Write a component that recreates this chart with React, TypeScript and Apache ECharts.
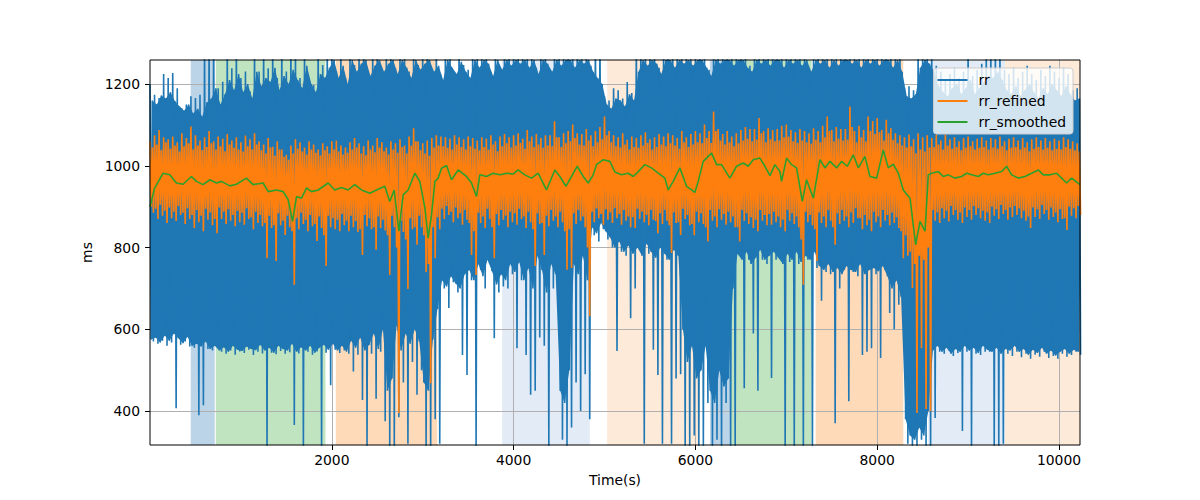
import React, { useEffect, useRef } from "react";
import * as echarts from "echarts";

// ---- axis ranges / ticks ----
const X_MIN = 0;
const X_MAX = 10231;
const Y_MIN = 317;
const Y_MAX = 1259;
const X_TICKS = [2000, 4000, 6000, 8000, 10000];
const Y_TICKS = [400, 600, 800, 1000, 1200];

// Each 50 s bin is split in two 25 s halves; for each half the highest
// and the lowest beat interval were read off the picture.
// (A = extreme beats, B = the dense body of the trace)
const BIN = 50;

// ---- rr ----
const rrHiA = [
  1200, 1174, 1166, 1225, 1215, 1227, 1190, 1141, 1150, 1170,
  1166, 1174, 1300, 1300, 1300, 1190, 1206, 1300, 1239, 1300,
  1215, 1231, 1182, 1300, 1231, 1300, 1239, 1300, 1215, 1300,
  1231, 1300, 1300, 1215, 1300, 1215, 1198, 1300, 1247, 1300,
  1300, 1231, 1300, 1215, 1300, 1247, 1300, 1300, 1231, 1300,
  1300, 1215, 1300, 1300, 1239, 1300, 1300, 1231, 1300, 1247,
  1300, 1300, 1215, 1300, 1223, 1300, 1300, 1215, 1300, 1247,
  1235, 1300, 1300, 1300, 1300, 1230, 1300, 1228, 1300, 1300,
  1300, 1300, 1300, 1300, 1300, 1240, 1300, 1300, 1235, 1300,
  1300, 1300, 1300, 1300, 1300, 1300, 1300, 1245, 1300, 1300,
  1170, 1160, 1190, 1185, 1165, 1205, 1178, 1300, 1300, 1300,
  1300, 1300, 1240, 1300, 1300, 1300, 1300, 1300, 1300, 1300,
  1300, 1300, 1300, 1235, 1300, 1300, 1300, 1300, 1300, 1300,
  1300, 1300, 1245, 1300, 1300, 1300, 1300, 1300, 1300, 1300,
  1300, 1300, 1300, 1300, 1300, 1240, 1300, 1300, 1300, 1300,
  1300, 1300, 1300, 1300, 1300, 1300, 1300, 1300, 1300, 1300,
  1300, 1300, 1300, 1300, 1300, 1300, 1190, 1195, 1185, 1300,
  1300, 1300, 1300, 1245, 1230, 1210, 1225, 1240, 1215, 1230,
  1300, 1220, 1235, 1250, 1300, 1300, 1300, 1300, 1235, 1225,
  1240, 1215, 1230, 1245, 1225, 1210, 1235, 1220, 1245, 1230,
  1215, 1240, 1225, 1185, 1190,
];
const rrLoA = [
  570, 565, 572, 560, 568, 407, 562, 570, 558, 555,
  390, 414, 552, 548, 556, 545, 540, 548, 538, 546,
  542, 550, 537, 545, 541, 310, 543, 539, 547, 540,
  544, 366, 541, 310, 545, 538, 546, 310, 543, 463,
  550, 542, 548, 540, 497, 538, 427, 310, 540, 430,
  545, 375, 310, 310, 385, 470, 320, 520, 440, 500,
  310, 310, 380, 320, 700, 652, 715, 690, 537, 488,
  720, 310, 745, 700, 760, 578, 690, 705, 700, 735,
  554, 720, 537, 440, 450, 580, 560, 310, 700, 650,
  330, 310, 360, 470, 400, 490, 380, 830, 815, 845,
  820, 800, 547, 790, 780, 627, 700, 795, 320, 785,
  550, 488, 320, 770, 320, 480, 490, 310, 310, 340,
  310, 310, 420, 310, 330, 310, 420, 310, 310, 780,
  456, 770, 590, 450, 770, 760, 481, 770, 770, 310,
  765, 310, 760, 310, 770, 310, 750, 670, 740, 735,
  370, 700, 745, 424, 740, 730, 537, 545, 554, 735,
  530, 745, 640, 600, 660, 620, 320, 310, 310, 330,
  310, 310, 383, 545, 540, 548, 535, 542, 351, 545,
  310, 540, 537, 545, 545, 310, 310, 320, 540, 535,
  545, 532, 540, 528, 538, 533, 545, 530, 535, 528,
  540, 533, 537, 545, 538,
];
const rrHiB = [
  1160, 1150, 1172, 1165, 1180, 1158, 1145, 1135, 1150, 1128,
  1140, 1120, 1155, 1165, 1190, 1150, 1175, 1210, 1185, 1225,
  1180, 1200, 1165, 1230, 1195, 1215, 1205, 1240, 1185, 1220,
  1200, 1235, 1210, 1190, 1245, 1200, 1180, 1225, 1215, 1240,
  1259, 1215, 1245, 1200, 1259, 1230, 1250, 1259, 1220, 1245,
  1259, 1230, 1250, 1259, 1225, 1259, 1240, 1215, 1259, 1235,
  1250, 1259, 1230, 1245, 1210, 1259, 1240, 1225, 1255, 1230,
  1215, 1259, 1240, 1259, 1250, 1220, 1259, 1235, 1259, 1245,
  1259, 1250, 1259, 1240, 1259, 1225, 1259, 1250, 1230, 1259,
  1245, 1259, 1259, 1240, 1259, 1250, 1259, 1230, 1215, 1200,
  1150, 1140, 1165, 1160, 1145, 1175, 1160, 1230, 1259, 1245,
  1259, 1250, 1225, 1259, 1259, 1240, 1259, 1250, 1259, 1245,
  1259, 1259, 1240, 1220, 1259, 1250, 1259, 1259, 1245, 1259,
  1259, 1240, 1230, 1259, 1250, 1259, 1245, 1259, 1259, 1240,
  1259, 1250, 1259, 1245, 1259, 1230, 1259, 1250, 1259, 1240,
  1259, 1245, 1259, 1259, 1250, 1259, 1240, 1259, 1250, 1259,
  1245, 1259, 1259, 1240, 1259, 1230, 1170, 1165, 1175, 1240,
  1259, 1250, 1230, 1195, 1180, 1170, 1190, 1200, 1175, 1190,
  1210, 1175, 1190, 1205, 1220, 1215, 1230, 1210, 1185, 1175,
  1195, 1170, 1185, 1200, 1180, 1165, 1190, 1175, 1200, 1185,
  1170, 1195, 1175, 1160, 1165,
];
const rrLoB = [
  575, 580, 568, 585, 572, 590, 578, 566, 582, 560,
  565, 558, 570, 552, 560, 548, 556, 545, 560, 550,
  547, 558, 552, 549, 562, 548, 555, 543, 560, 552,
  548, 565, 545, 556, 548, 560, 543, 555, 562, 550,
  565, 548, 560, 545, 572, 555, 580, 548, 562, 590,
  552, 600, 450, 480, 610, 548, 590, 565, 600, 570,
  470, 450, 575, 650, 720, 705, 730, 712, 700, 735,
  745, 720, 760, 730, 770, 742, 710, 735, 720, 760,
  740, 765, 720, 750, 700, 780, 745, 690, 760, 735,
  450, 420, 500, 760, 735, 780, 720, 850, 835, 860,
  840, 825, 800, 815, 790, 805, 785, 800, 780, 810,
  790, 775, 800, 785, 770, 795, 780, 600, 520, 560,
  480, 500, 560, 450, 420, 500, 460, 480, 700, 785,
  770, 790, 760, 775, 795, 770, 780, 790, 775, 760,
  785, 770, 790, 765, 780, 770, 790, 755, 745, 760,
  740, 750, 735, 755, 745, 740, 760, 735, 745, 750,
  742, 755, 730, 700, 720, 680, 380, 340, 330, 360,
  340, 400, 548, 560, 545, 555, 540, 552, 545, 560,
  548, 555, 542, 560, 550, 545, 555, 540, 552, 548,
  560, 545, 552, 538, 550, 542, 555, 540, 548, 536,
  545, 552, 540, 550, 545,
];

// ---- rr_refined ----
const rfHiA = [
  1060, 1075, 1088, 1070, 1065, 1072, 1058, 1080, 1068, 1096,
  1075, 1062, 1070, 1085, 1060, 1072, 1066, 1078, 1062, 1070,
  1058, 1074, 1065, 1080, 1060, 1052, 1068, 1047, 1060, 1040,
  1027, 1050, 1065, 1058, 1045, 1060, 1052, 1040, 1055, 1048,
  1060, 1062, 1050, 1045, 1058, 1068, 1055, 1048, 1062, 1050,
  1068, 1058, 1045, 1060, 1055, 1065, 1050, 1072, 1092, 1060,
  1055, 1062, 1068, 1075, 1072, 1070, 1066, 1075, 1070, 1065,
  1072, 1068, 1062, 1070, 1066, 1075, 1060, 1072, 1078, 1070,
  1075, 1080, 1066, 1088, 1072, 1078, 1068, 1075, 1075, 1109,
  1070, 1080, 1085, 1101, 1080, 1078, 1090, 1075, 1085, 1095,
  1121, 1085, 1075, 1070, 1080, 1064, 1072, 1068, 1075, 1082,
  1065, 1070, 1078, 1072, 1080, 1075, 1068, 1085, 1070, 1078,
  1085, 1080, 1101, 1085, 1133, 1090, 1078, 1085, 1072, 1080,
  1088, 1095, 1090, 1090, 1117, 1085, 1092, 1088, 1090, 1098,
  1101, 1088, 1082, 1090, 1085, 1080, 1092, 1085, 1098, 1121,
  1088, 1095, 1090, 1090, 1145, 1085, 1098, 1088, 1121, 1110,
  1117, 1088, 1113, 1092, 1080, 1075, 1070, 1077, 1065, 1080,
  1070, 1075, 1068, 1076, 1062, 1076, 1065, 1070, 1060, 1068,
  1072, 1060, 1066, 1070, 1062, 1068, 1065, 1072, 1060, 1066,
  1070, 1062, 1068, 1058, 1065, 1070, 1062, 1068, 1060, 1066,
  1062, 1070, 1065, 1060, 1055,
];
const rfLoA = [
  885, 870, 878, 860, 872, 865, 880, 858, 870, 848,
  862, 840, 868, 855, 835, 870, 858, 866, 852, 862,
  856, 870, 845, 860, 852, 774, 848, 767, 855, 831,
  850, 709, 845, 858, 840, 852, 816, 848, 755, 850,
  845, 840, 855, 840, 850, 838, 782, 852, 845, 795,
  848, 842, 733, 850, 395, 838, 699, 845, 807, 850,
  740, 468, 774, 845, 870, 880, 862, 872, 856, 868,
  782, 733, 860, 848, 870, 774, 855, 868, 850, 862,
  856, 870, 848, 862, 755, 858, 782, 852, 866, 850,
  862, 746, 750, 858, 866, 850, 632, 862, 872, 856,
  868, 860, 872, 856, 866, 850, 848, 870, 862, 855,
  868, 835, 858, 866, 787, 860, 831, 870, 855, 830,
  862, 858, 815, 866, 850, 868, 856, 862, 850, 815,
  866, 858, 848, 840, 866, 855, 856, 862, 850, 840,
  866, 858, 850, 709, 862, 855, 767, 860, 850, 866,
  807, 858, 866, 850, 860, 872, 845, 855, 840, 862,
  850, 866, 855, 860, 848, 774, 780, 701, 395, 554,
  405, 400, 866, 860, 872, 864, 880, 868, 860, 875,
  868, 880, 872, 866, 860, 878, 870, 882, 868, 875,
  880, 872, 866, 848, 875, 870, 882, 868, 875, 862,
  870, 843, 878, 872, 880,
];
const rfHiB = [
  1045, 1052, 1038, 1058, 1042, 1050, 1035, 1048, 1055, 1040,
  1050, 1038, 1046, 1055, 1040, 1048, 1036, 1052, 1044, 1040,
  1035, 1048, 1040, 1052, 1038, 1030, 1045, 1025, 1040, 1022,
  1015, 1030, 1042, 1035, 1028, 1040, 1032, 1025, 1038, 1030,
  1040, 1035, 1028, 1032, 1040, 1045, 1030, 1026, 1040, 1033,
  1045, 1036, 1028, 1040, 1032, 1046, 1030, 1050, 1060, 1038,
  1030, 1025, 1045, 1050, 1048, 1044, 1040, 1052, 1046, 1040,
  1048, 1042, 1038, 1046, 1040, 1052, 1036, 1048, 1055, 1045,
  1050, 1056, 1042, 1060, 1046, 1052, 1044, 1050, 1048, 1070,
  1046, 1055, 1060, 1068, 1052, 1050, 1062, 1048, 1058, 1065,
  1075, 1058, 1048, 1045, 1052, 1040, 1046, 1044, 1050, 1056,
  1040, 1046, 1052, 1048, 1055, 1050, 1042, 1058, 1046, 1052,
  1058, 1055, 1068, 1056, 1085, 1062, 1052, 1058, 1048, 1055,
  1062, 1066, 1060, 1064, 1080, 1058, 1065, 1060, 1062, 1070,
  1072, 1060, 1056, 1062, 1058, 1054, 1064, 1058, 1070, 1085,
  1060, 1066, 1062, 1064, 1095, 1058, 1070, 1060, 1085, 1078,
  1082, 1062, 1080, 1064, 1055, 1050, 1045, 1048, 1030, 1040,
  1035, 1045, 1046, 1052, 1040, 1050, 1042, 1046, 1038, 1044,
  1048, 1040, 1044, 1046, 1040, 1045, 1042, 1048, 1038, 1044,
  1046, 1040, 1045, 1036, 1042, 1046, 1040, 1044, 1038, 1042,
  1040, 1046, 1042, 1038, 1035,
];
const rfLoB = [
  900, 895, 905, 890, 898, 888, 902, 885, 896, 880,
  892, 878, 895, 886, 870, 898, 888, 894, 880, 890,
  885, 896, 874, 888, 880, 860, 878, 855, 884, 866,
  878, 840, 872, 885, 868, 880, 858, 876, 830, 878,
  872, 868, 882, 866, 878, 865, 845, 880, 872, 850,
  876, 868, 830, 878, 800, 866, 820, 872, 850, 878,
  830, 760, 850, 874, 895, 902, 888, 898, 884, 892,
  860, 840, 885, 876, 895, 850, 882, 892, 878, 888,
  884, 895, 876, 888, 845, 884, 860, 878, 892, 876,
  888, 840, 845, 884, 892, 876, 800, 888, 896, 882,
  894, 886, 896, 882, 892, 876, 874, 895, 888, 880,
  892, 865, 884, 892, 855, 886, 862, 895, 880, 858,
  888, 884, 850, 892, 876, 894, 882, 888, 876, 850,
  892, 884, 874, 868, 892, 880, 882, 888, 876, 868,
  892, 884, 876, 820, 888, 880, 845, 886, 876, 892,
  850, 884, 892, 876, 886, 896, 872, 880, 868, 888,
  876, 892, 880, 886, 874, 840, 830, 790, 760, 780,
  770, 800, 892, 886, 896, 890, 902, 892, 886, 898,
  892, 902, 896, 890, 886, 900, 894, 904, 892, 898,
  902, 896, 890, 876, 898, 894, 904, 892, 898, 886,
  894, 872, 900, 896, 902,
];

// ---- rr_smoothed: [time, ms] ----
const smoothed = [
  [0, 900], [50, 945], [144, 982], [217, 978], [291, 958], [364, 955], [456, 974], [511, 962],
  [584, 954], [658, 966], [731, 958], [786, 962], [878, 951], [951, 955], [1061, 970], [1134, 954],
  [1245, 958], [1300, 937], [1392, 941], [1465, 937], [1520, 917], [1568, 864], [1612, 925], [1667, 921],
  [1722, 946], [1776, 937], [1850, 941], [1960, 958], [2033, 941], [2106, 947], [2180, 941], [2253, 954],
  [2327, 941], [2418, 933], [2492, 941], [2583, 950], [2638, 913], [2686, 941], [2738, 840], [2785, 929],
  [2840, 941], [2913, 982], [2968, 962], [3024, 897], [3060, 823], [3097, 880], [3134, 962], [3170, 970],
  [3207, 994], [3262, 1001], [3317, 966], [3390, 990], [3482, 974], [3537, 958], [3592, 925], [3628, 978],
  [3702, 974], [3775, 982], [3849, 978], [3922, 982], [3995, 980], [4050, 990], [4124, 978], [4197, 970],
  [4270, 982], [4362, 941], [4454, 990], [4509, 974], [4575, 950], [4637, 974], [4700, 999], [4766, 974],
  [4821, 958], [4876, 978], [4912, 1003], [4986, 1015], [5059, 1011], [5114, 985], [5187, 978], [5261, 982],
  [5316, 974], [5371, 986], [5444, 1003], [5517, 995], [5591, 982], [5664, 970], [5701, 941], [5756, 962],
  [5829, 995], [5903, 950], [5958, 941], [5994, 935], [6031, 962], [6086, 1011], [6178, 1031], [6233, 1003],
  [6288, 1003], [6379, 970], [6453, 999], [6526, 1007], [6581, 999], [6636, 1015], [6710, 1019], [6765, 999],
  [6820, 976], [6875, 1003], [6930, 986], [6948, 962], [7003, 1019], [7058, 1003], [7113, 995], [7176, 913],
  [7223, 966], [7297, 921], [7370, 1015], [7425, 995], [7480, 1011], [7554, 995], [7609, 1011], [7671, 999],
  [7737, 1027], [7792, 995], [7865, 1023], [7920, 974], [7994, 970], [8067, 1039], [8122, 995], [8177, 1004],
  [8232, 982], [8287, 941], [8361, 921], [8423, 807], [8471, 864], [8526, 840], [8562, 978], [8598, 982],
  [8672, 986], [8727, 974], [8782, 978], [8855, 970], [8928, 974], [8984, 982], [9039, 978], [9112, 974],
  [9167, 982], [9222, 978], [9295, 982], [9369, 986], [9424, 999], [9479, 978], [9552, 970], [9625, 974],
  [9699, 982], [9772, 990], [9827, 978], [9900, 978], [9974, 982], [10029, 970], [10084, 958], [10139, 970],
  [10231, 954],
];

// ---- shaded stages ----
const spanStart = [448, 724, 2044, 3874, 5030, 6160, 6387, 7323, 8562, 9406];
const spanEnd = [712, 1930, 3160, 4839, 6050, 6380, 7279, 8287, 9406, 10300];
const spanColor = ["#bbd4e8", "#c0e3c0", "#ffdab8", "#e3ecf6", "#feead8", "#bbd4e8", "#c0e3c0", "#ffdab8", "#e3ecf6", "#feead8"];

const FONT = "DejaVu Sans";
const C0 = "#1f77b4";
const C1 = "#ff7f0e";
const C2 = "#2ca02c";

function zigzag(hiA: number[], loA: number[], hiB: number[], loB: number[]) {
  const out: number[][] = [];
  hiA.forEach((h, i) => {
    const t = i * BIN;
    out.push([t, h]);
    out.push([t + BIN / 4, loB[i]]);
    out.push([t + BIN / 2, hiB[i]]);
    out.push([t + (3 * BIN) / 4, loA[i]]);
  });
  return out;
}

// dense body of a trace, through its B (body) values
function body(name: string, hiB: number[], loB: number[], color: string) {
  return {
    type: "custom",
    name,
    coordinateSystem: "cartesian2d",
    silent: true,
    clip: true,
    data: [[0, loB[0]]],
    encode: { x: 0, y: 1 },
    renderItem: (_p: any, api: any) => {
      const pts: number[][] = [];
      for (let i = 0; i < hiB.length; i++) pts.push(api.coord([i * BIN + BIN / 2, Math.min(hiB[i], Y_MAX)]));
      for (let i = loB.length - 1; i >= 0; i--) pts.push(api.coord([i * BIN + BIN / 4, Math.max(loB[i], Y_MIN)]));
      return { type: "polygon", shape: { points: pts }, style: { fill: color } };
    },
  };
}

export default function App() {
  const ref = useRef<HTMLDivElement>(null);
  useEffect(() => {
    document.body.style.margin = "0";
    const chart = echarts.init(ref.current!, null, { renderer: "svg" });
    const textStyle = { fontFamily: FONT, fontSize: 13.9, color: "#000" };
    chart.setOption({
      animation: false,
      grid: { left: 150, right: 120, top: 60, bottom: 55 },
      legend: {
        data: ["rr", "rr_refined", "rr_smoothed"],
        orient: "vertical",
        right: 127,
        top: 68,
        icon: "rect",
        itemWidth: 30,
        itemHeight: 2,
        itemGap: 5,
        padding: [4, 7, 4, 4],
        backgroundColor: "rgba(255,255,255,0.8)",
        borderColor: "#cccccc",
        borderWidth: 1,
        borderRadius: 3,
        textStyle: { ...textStyle, lineHeight: 16, padding: [0, 0, 0, 6] },
      },
      xAxis: {
        type: "value",
        min: X_MIN,
        max: X_MAX,
        interval: 2000,
        name: "Time(s)",
        nameLocation: "middle",
        nameGap: 28,
        nameTextStyle: textStyle,
        axisLine: { show: false },
        axisTick: { show: true, length: 5, lineStyle: { color: "#000" }, customValues: X_TICKS },
        axisLabel: { ...textStyle, margin: 8, customValues: X_TICKS, formatter: (v: number) => String(v) },
        splitLine: { show: true, lineStyle: { color: "#b0b0b0", width: 1 } },
      },
      yAxis: {
        type: "value",
        min: Y_MIN,
        max: Y_MAX,
        name: "ms",
        nameLocation: "middle",
        nameGap: 50,
        nameTextStyle: textStyle,
        axisLine: { show: false },
        axisTick: { show: true, length: 5, lineStyle: { color: "#000" }, customValues: Y_TICKS },
        axisLabel: { ...textStyle, margin: 10, customValues: Y_TICKS, formatter: (v: number) => String(v) },
        splitLine: { show: true, lineStyle: { color: "#b0b0b0", width: 1 } },
      },
      graphic: [
        {
          type: "rect",
          z: 100,
          silent: true,
          shape: { x: 150, y: 60, width: 930, height: 385 },
          style: { fill: "none", stroke: "#000", lineWidth: 1 },
        },
      ],
      series: [
        {
          type: "line",
          name: "stages",
          data: [],
          silent: true,
          markArea: {
            silent: true,
            z: -1,
            data: spanStart.map((s, i) => [
              { xAxis: s, itemStyle: { color: spanColor[i], opacity: 1 } },
              { xAxis: spanEnd[i] },
            ]),
          },
        },
        body("rr_body", rrHiB, rrLoB, C0),
        {
          type: "line",
          name: "rr",
          data: zigzag(rrHiA, rrLoA, rrHiB, rrLoB),
          showSymbol: false,
          symbol: "none",
          color: C0,
          lineStyle: { width: 1.6, color: C0 },
        },
        body("rr_refined_body", rfHiB, rfLoB, C1),
        {
          type: "line",
          name: "rr_refined",
          data: zigzag(rfHiA, rfLoA, rfHiB, rfLoB),
          showSymbol: false,
          symbol: "none",
          color: C1,
          lineStyle: { width: 1.6, color: C1 },
        },
        {
          type: "line",
          name: "rr_smoothed",
          data: smoothed,
          showSymbol: false,
          symbol: "none",
          color: C2,
          lineStyle: { width: 1.6, color: C2 },
        },
      ],
    });
    return () => chart.dispose();
  }, []);
  return <div ref={ref} style={{ width: 1200, height: 500 }} />;
}
